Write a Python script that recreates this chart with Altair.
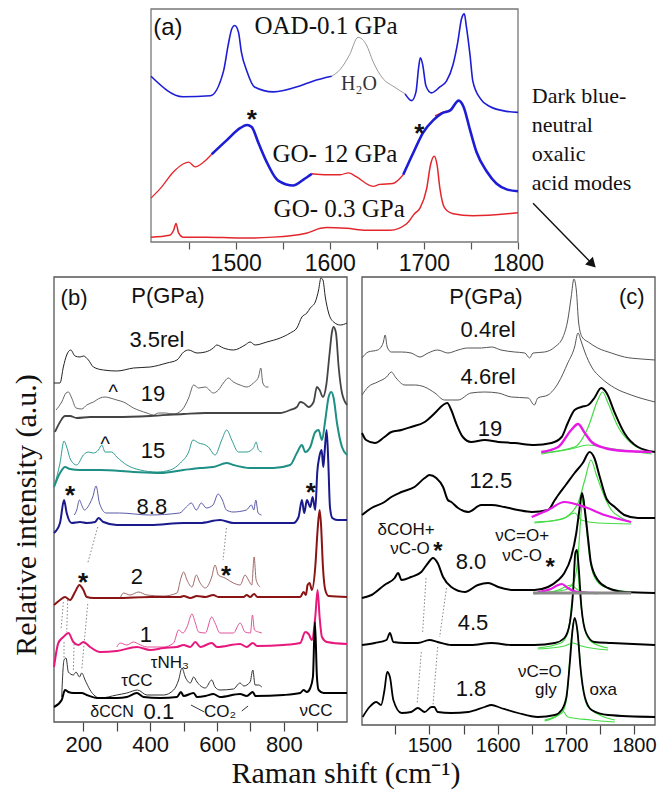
import altair as alt
import pandas as pd

# ======================= DATA =======================
# x = Raman shift (cm-1), y = relative intensity (a.u., offset per trace)

# ---- panel (a) ----
a_oad_1 = [(1410,170),(1444,149),(1473,150),(1487,175),(1492,202),(1496,219),(1499,222),(1503,215),
           (1506,195),(1512,175),(1520,159),(1540,154),(1568,160),(1582,165),(1602,170)]
a_oad_h2o = [(1602,170),(1611,177),(1621,192),(1630,210),(1639,202),(1646,185),(1657,167),(1667,160),(1680,152)]
a_oad_2 = [(1680,152),(1687,145),(1691.6,154),(1694.4,179),(1696.2,189),(1698.7,182),(1702.2,160),(1708,153),
           (1717,159),(1724,165),(1731,182),(1736,205),(1740,229),(1743,234),(1745,222),(1749,192),
           (1752,165),(1760,147),(1770,139),(1788,134),(1800,133)]
a_go12_r1 = [(1410,45),(1420,55),(1434,72),(1444,80),(1450,82),(1457,77),(1466,82),(1474.5,90)]
a_go12_b1 = [(1474.5,90),(1490,104),(1505,117),(1512,120),(1517,118),(1524,102),(1533,82),(1543,65),
             (1554,59),(1561,58),(1572,64),(1581,70)]
a_go12_r2 = [(1581,70),(1597,69),(1611,69),(1620,71),(1628,67),(1646,57),(1653,59),(1667,60),(1678,69)]
a_go12_b2 = [(1678,69),(1689,92),(1699,112),(1710,125),(1719,132),(1728,135),(1737,145),(1742,139),
             (1749,115),(1756,92),(1767,72),(1777,60),(1788,54),(1800,52)]
a_go12_r3 = [(1712,129),(1718,132),(1724,134)]
a_go03 = [(1410,5),(1430,7),(1434,12),(1436.6,19),(1439.4,9),(1444,5),(1469,5),(1505,4),(1540,5),(1575,9),
          (1590,14),(1597,15),(1618,14),(1639,12),(1664,12),(1682,19),(1690,29),(1696,35),(1703,55),
          (1707,79),(1711,88),(1714,79),(1717,55),(1722,35),(1731,29),(1752,27),(1800,30)]

# ---- panel (b) ----
b_35rel = [(112,339),(130,339),(140,355),(150,367),(162,372),(175,366),(190,365),(200,366),(215,362),(230,355),
           (260,352),(300,351),(350,354),(400,355),(450,359),(480,362),(500,370),(515,372),(540,369),(565,370),
           (589,374),(599,377),(619,374),(649,372),(684,377),(699,380),(714,377),(749,380),(789,384),(819,389),
           (839,394),(854,405),(869,409),(879,414),(894,420),(904,432),(911,444),(917,442),(924,425),(934,409),
           (949,400),(969,397),(989,399)]
b_19_thin = [(118,312),(135,320),(148,329),(155,330),(165,324),(178,314),(195,313),(210,317),(230,320),(250,324),
             (265,325),(280,324),(300,322),(320,320),(350,314),(390,309),(410,307),(425,309),(445,309),(470,308),
             (495,312),(515,324),(530,337),(545,334),(565,335),(589,329),(604,332),(619,339),(634,344),(649,340),
             (669,337),(689,335),(709,339),(724,345),(731,354),(737,339),(747,335),(754,335)]
b_19_thick = [(115,290),(130,300),(145,306),(160,306),(180,304),(220,305),(300,305),(400,306),(500,308),(565,309),
              (609,309),(669,309),(729,309),(789,309),(819,312),(839,315),(849,320),(859,319),(874,315),(889,320),
              (899,335),(907,332),(917,325),(927,337),(937,369),(944,390),(949,395),(956,389),(964,355),(974,329),
              (989,317)]
b_15_thin = [(112,235),(130,259),(142,281),(150,275),(162,262),(180,257),(200,267),(215,270),(230,269),(245,272),
             (255,277),(265,270),(285,270),(300,265),(330,257),(370,252),(420,250),(460,252),(490,259),(515,270),
             (528,282),(545,279),(565,277),(574,275),(594,267),(614,282),(629,292),(644,282),(664,270),(689,270),
             (709,274),(717,280),(724,272),(734,270)]
b_15_thick = [(112,235),(130,249),(145,255),(160,253),(190,252),(250,252),(350,250),(430,249),(500,252),(549,254),
              (589,255),(629,259),(649,257),(699,254),(769,254),(819,257),(839,269),(854,277),(864,270),(879,275),
              (894,290),(904,292),(914,282),(924,302),(934,325),(942,330),(949,324),(959,299),(974,275),(989,267)]
b_88_thin = [(173,207),(180,212),(188,222),(196,216),(203,212),(220,219),(228,225),(238,236),(248,219),(268,209),
             (308,209),(398,207),(488,209),(508,215),(523,219),(538,212),(553,219),(568,214),(588,217),(603,228),
             (616,222),(628,212),(648,210),(688,212),(703,217),(710,212),(716,222),(723,209),(733,207)]
b_88_thick = [(112,189),(130,199),(142,222),(150,209),(165,199),(190,200),(210,199),(235,200),(245,204),(260,200),
              (300,197),(400,197),(500,199),(549,199),(609,202),(649,199),(749,199),(829,199),(844,205),(854,222),
              (861,209),(869,222),(879,215),(886,225),(894,212),(900,250),(906,265),(913,272),(918,255),(922,270),
              (928,292),(933,260),(938,215),(945,204),(960,202),(989,202)]
b_2_thin = [(310,124),(320,129),(340,127),(365,130),(390,127),(440,126),(480,129),(492,144),(500,150),(510,142),
            (525,135),(538,147),(548,140),(565,134),(584,145),(594,157),(604,147),(624,144),(649,139),(669,137),
            (684,147),(694,142),(704,137),(711,165),(717,142),(729,135)]
b_2_thick = [(112,117),(130,122),(145,125),(160,122),(175,130),(188,137),(200,132),(210,125),(230,124),(300,124),
             (400,125),(490,125),(500,126),(520,124),(540,126),(565,125),(589,127),(604,125),(679,125),(689,127),
             (699,125),(711,128),(721,125),(799,125),(849,125),(859,130),(866,127),(871,137),(877,139),(884,132),
             (894,155),(901,192),(907,212),(911,199),(917,155),(924,132),(934,126),(989,125)]
b_1_thin = [(300,75),(310,79),(330,77),(350,80),(365,78),(390,75),(440,75),(470,79),(485,92),(498,89),(510,95),
            (525,108),(535,99),(545,90),(565,89),(584,105),(594,99),(609,89),(649,89),(669,99),(684,90),(700,89),
            (706,107),(712,92),(724,90),(734,89)]
b_1_thick = [(112,55),(125,79),(140,85),(155,89),(170,80),(185,77),(200,80),(220,75),(250,70),(300,71),(360,75),
             (400,72),(440,74),(480,75),(500,77),(520,75),(535,80),(550,75),(584,79),(600,75),(669,78),(689,75),
             (707,79),(720,76),(799,77),(849,79),(864,90),(874,88),(884,82),(894,105),(901,132),(907,105),(914,85),
             (929,80),(989,78)]
b_01_thin = [(135,25),(142,62),(148,64),(155,50),(170,47),(178,50),(188,45),(195,49),(205,42),(220,32),(250,24),
             (300,27),(330,29),(362,32),(390,27),(440,27),(470,32),(485,42),(495,54),(505,45),(520,39),(530,45),
             (540,40),(565,34),(584,42),(594,35),(609,32),(649,33),(669,39),(680,36),(699,40),(707,52),(714,37),
             (724,37),(734,35)]
b_01_thick = [(112,15),(135,22),(145,32),(155,30),(170,29),(195,29),(210,27),(240,24),(300,24),(330,25),(360,29),
              (380,25),(430,24),(480,25),(492,30),(500,26),(530,29),(540,25),(565,26),(589,28),(609,25),(669,28),
              (689,26),(707,30),(715,26),(799,27),(849,29),(859,32),(869,30),(879,34),(887,45),(893,100),(899,45),
              (904,32),(919,29),(989,29)]

# ---- panel (c) ----
c_04rel = [(1401,367),(1410,373),(1424,375),(1432,382),(1435,390),(1438,378),(1444,373),(1459,373),(1473,372),
           (1486,368),(1498,372),(1512,375),(1527,372),(1542,375),(1556,377),(1576,377),(1591,378),(1605,375),
           (1625,373),(1640,372),(1647,367),(1652,372),(1669,373),(1684,378),(1696,388),(1703,405),(1708,428),
           (1712,446),(1715.5,435),(1719,402),(1724,388),(1733,383),(1747,377),(1767,372),(1786,368),(1811,366),
           (1831,365)]
c_46rel = [(1401,330),(1410,338),(1424,343),(1437,348),(1444,353),(1451,347),(1464,340),(1478,340),(1493,338),
           (1508,332),(1522,325),(1542,325),(1561,332),(1581,333),(1601,332),(1620,328),(1645,327),(1654,320),
           (1659,327),(1674,330),(1689,342),(1703,362),(1713,378),(1718,392),(1722,385),(1728,373),(1738,358),
           (1752,347),(1772,337),(1796,330),(1831,323)]
c_19 = [(1401,292),(1407,285),(1420,282),(1434,288),(1444,293),(1459,295),(1473,298),(1493,303),(1508,312),
        (1520,320),(1526,322),(1532,315),(1539,302),(1549,288),(1561,283),(1581,285),(1601,283),(1625,282),
        (1654,280),(1679,282),(1694,288),(1703,302),(1713,315),(1723,318),(1733,320),(1742,327),(1752,337),
        (1760,332),(1772,312),(1786,292),(1806,278),(1831,273)]
c_19_mag = [(1664,273),(1689,278),(1708,295),(1718,301),(1728,292),(1738,283),(1757,277),(1786,274),(1826,273)]
c_19_g1 = [(1664,272),(1713,278),(1733,298),(1747,325),(1754,333),(1762,322),(1777,298),(1796,282),(1826,273)]
c_19_g2 = [(1664,271),(1708,276),(1733,280),(1762,277),(1826,271)]
c_125 = [(1401,210),(1415,217),(1434,223),(1444,228),(1459,233),(1478,238),(1493,247),(1500,250),(1510,247),
         (1520,238),(1527,225),(1532,223),(1542,217),(1557,213),(1576,220),(1591,220),(1610,218),(1630,215),
         (1650,213),(1674,215),(1684,225),(1689,230),(1700,240),(1713,252),(1725,262),(1735,273),(1742,267),
         (1750,248),(1760,226),(1772,218),(1786,210),(1806,207),(1831,207)]
c_125_mag = [(1650,208),(1674,215),(1698,223),(1728,218),(1757,210),(1796,203)]
c_125_g1 = [(1654,203),(1689,205),(1708,212),(1718,222),(1728,245),(1737,265),(1745,250),(1757,228),(1767,215),
            (1782,207),(1796,203)]
c_125_g2 = [(1654,202),(1698,207),(1713,212),(1723,205),(1747,202),(1796,201)]
c_80 = [(1401,127),(1415,130),(1434,140),(1449,147),(1454,152),(1459,145),(1473,148),(1488,153),(1498,162),
        (1505,167),(1512,162),(1520,148),(1532,138),(1552,133),(1571,140),(1586,142),(1601,138),(1625,135),
        (1654,135),(1674,138),(1689,145),(1698,152),(1708,168),(1715.5,192),(1720,215),(1724,232),(1728,215),
        (1733,185),(1737,162),(1747,145),(1762,137),(1786,133),(1831,132)]
c_80_base = [(1652,132),(1796,132)]
c_80_mag = [(1659,133),(1678,136),(1689,140),(1694.5,141),(1703,137),(1718,133),(1750,132),(1796,132)]
c_80_g1 = [(1654,132),(1698,135),(1711,142),(1718,168),(1723,215),(1726,228),(1729,208),(1735,168),(1742,148),
           (1757,138),(1796,133)]
c_80_g2 = [(1654,131),(1689,135),(1708,140),(1718,135),(1747,131)]
c_45 = [(1401,80),(1420,82),(1437,85),(1442,92),(1447,83),(1464,82),(1483,82),(1500,85),(1512,83),(1532,80),
        (1561,80),(1591,82),(1620,80),(1654,80),(1684,82),(1698,87),(1706,102),(1711,135),(1714,172),(1716.5,175),
        (1719,158),(1723,118),(1730,92),(1742,83),(1767,82),(1831,80)]
c_45_g1 = [(1659,77),(1693,82),(1703,92),(1710.6,135),(1715.5,173),(1720,135),(1728,95),(1738,83),(1762,77)]
c_45_g2 = [(1659,76),(1698,79),(1710.6,82),(1723,79),(1762,75)]
c_18 = [(1402,8),(1412,18),(1422,23),(1429,20),(1434,35),(1438,53),(1442,48),(1447,25),(1459,12),(1473,13),
        (1483,17),(1493,13),(1503,18),(1507,18),(1512,13),(1532,12),(1557,13),(1581,18),(1591,20),(1605,17),
        (1630,12),(1659,8),(1684,10),(1694,15),(1701,28),(1706,62),(1710,95),(1713,107),(1717,95),(1722,55),
        (1728,28),(1738,15),(1762,10),(1831,8)]
c_18_g1 = [(1669,5),(1694,12),(1701,25),(1708,85),(1713,107),(1718,88),(1724,42),(1733,18),(1772,5)]
c_18_g2 = [(1669,4),(1688.6,10),(1694.5,15),(1703,8),(1737,5),(1772,3)]

# dotted guide lines (x1, y1, x2, y2)
b_guides = [(243,195,213,159),(628,194,618,162),(140,120,133,92),(153,122,150,90),(213,118,195,52),
            (142,80,142,64),(172,78,170,50)]
c_guides = [(1495,147,1490,93),(1525,137,1515,88),(1488,73,1482,22),(1512,78,1505,18)]
b_co2_marks = [(522,17,562,10),(693,16,674,11)]

# ---- text labels (x, y, text) in each panel's data units ----
a_labels_serif = [(1596,222,"OAD-0.1 GPa"),(1605.5,90,"GO- 12 GPa"),(1610,34,"GO- 0.3 GPa")]
a_label_h2o = [(1631,162,"H\u2082O")]
a_label_tag = [(1428,220,"(a)")]
a_stars = [(1517,131,"*"),(1695,117,"*")]
a_note = [(1814.6,143,"Dark blue-"),(1814.6,113,"neutral"),(1814.6,83.4,"oxalic"),(1814.6,53.3,"acid modes")]
a_arrow = [(1816,39.7,1879,-22.6)]
a_arrow_head = [(1879,-22.6)]

b_labels_big = [(172,424,"(b)"),(453,426,"P(GPa)"),(420,382,"3.5rel"),(408,328,"19"),(408,271,"15"),
                (405,215,"8.8"),(360,145,"2"),(387,87,"1"),(426,10,"0.1")]
b_labels_small = [(459,59,"\u03c4NH\u2083"),(360,41,"\u03c4CC"),(609,10,"CO\u2082"),(896,11,"\u03bdCC")]
b_label_dccn = [(286,10,"\u03b4CCN")]
b_carets = [(289,332,"^"),(265,280,"^")]
b_stars = [(160,232,"*"),(881,235,"*"),(199,145,"*"),(627,152,"*")]
b_ytitle = [(31,207,"Relative intensity (a.u.)")]

c_labels_big = [(1583,428,"P(GPa)"),(1797,428,"(c)"),(1586,395,"0.4rel"),(1586,348,"4.6rel"),(1589,296,"19"),
                (1590,244,"12.5"),(1561,163,"8.0"),(1564,102,"4.5"),(1561,36,"1.8")]
c_labels_mode = [(1465.6,195,"\u03b4COH+"),(1471.4,176,"\u03bdC-O"),(1636,189,"\u03bdC=O+"),(1636,169,"\u03bdC-O"),
                 (1662,53,"\u03bdC=O"),(1671,35,"gly"),(1755,35,"oxa")]
c_stars = [(1512.5,179,"*"),(1677,163,"*")]
c_xtitle = [(1377.5,-58,"Raman shift (cm\u207b\u00b9)")]

# ======================= STYLES =======================
BLUE, RED, GRAY = "#1d1dd6", "#e3262b", "#9a9a9a"
STYLE = {
    "a_oad_1": (BLUE, 1.6), "a_oad_h2o": (GRAY, 1.0), "a_oad_2": (BLUE, 1.6),
    "a_go12_r1": (RED, 1.3), "a_go12_b1": (BLUE, 2.6), "a_go12_r2": (RED, 1.3),
    "a_go12_b2": (BLUE, 2.6), "a_go12_r3": (RED, 2.0), "a_go03": (RED, 1.5),
    "b_35rel": ("#222222", 1.0), "b_19_thin": ("#666666", 1.0), "b_19_thick": ("#444444", 1.8),
    "b_15_thin": ("#2f9d92", 1.0), "b_15_thick": ("#1e8f84", 2.0),
    "b_88_thin": ("#5a5aa8", 1.0), "b_88_thick": ("#1a1a8c", 2.0),
    "b_2_thin": ("#a06a6a", 1.0), "b_2_thick": ("#8a1414", 2.0),
    "b_1_thin": ("#e0559a", 1.0), "b_1_thick": ("#e8177c", 2.0),
    "b_01_thin": ("#333333", 1.0), "b_01_thick": ("#000000", 2.0),
    "c_04rel": ("#555555", 1.0), "c_46rel": ("#555555", 1.0),
    "c_19": ("#000000", 2.0), "c_125": ("#000000", 2.0), "c_80": ("#000000", 2.0),
    "c_45": ("#000000", 1.8), "c_18": ("#000000", 1.8),
    "c_80_base": ("#8a8a8a", 3.0),
    "c_19_mag": ("#e619e6", 2.4), "c_125_mag": ("#e619e6", 2.2), "c_80_mag": ("#e619e6", 2.2),
    "c_19_g1": ("#45dc45", 1.2), "c_19_g2": ("#45dc45", 1.2), "c_125_g1": ("#45dc45", 1.2),
    "c_125_g2": ("#45dc45", 1.2), "c_80_g1": ("#45dc45", 1.2), "c_80_g2": ("#45dc45", 1.2),
    "c_45_g1": ("#45dc45", 1.2), "c_45_g2": ("#45dc45", 1.2), "c_18_g1": ("#45dc45", 1.2),
    "c_18_g2": ("#45dc45", 1.2),
}
SERIES = {k: v for k, v in globals().items() if k in STYLE}
NAMES = list(STYLE.keys())
COLOR_SCALE = alt.Scale(domain=NAMES, range=[STYLE[n][0] for n in NAMES])

SANS, SERIF = "Liberation Sans", "Liberation Serif"

CH = 782  # canvas height (plot area)
PANEL_A = dict(xdom=[1410, 1800], xrng=[143, 510], ydom=[0, 239], yrng=[234, 1])
PANEL_B = dict(xdom=[112, 989], xrng=[46, 339], ydom=[0, 445], yrng=[714, 269])
PANEL_C = dict(xdom=[1401, 1831], xrng=[354, 647], ydom=[0, 448], yrng=[717, 269])

AXIS_A = alt.Axis(orient="bottom", offset=234 - CH, values=[1450, 1500, 1550, 1600, 1650, 1700, 1750, 1800],
                  labelExpr="datum.value % 100 == 0 ? datum.label : ''", format="d", domain=False, grid=False,
                  tickSize=7, tickColor="#555555", tickWidth=1.2, labelFont=SANS, labelFontSize=23,
                  labelColor="#111111", labelPadding=3, labelFlush=False, labelOverlap=False, title=None)
AXIS_B = alt.Axis(orient="bottom", offset=714 - CH, values=[200, 300, 400, 500, 600, 700, 800, 900],
                  labelExpr="datum.value % 200 == 0 ? datum.label : ''", format="d", domain=False, grid=False,
                  tickSize=9, tickColor="#444444", tickWidth=1.2, labelFont=SANS, labelFontSize=22,
                  labelColor="#111111", labelPadding=3, labelFlush=False, labelOverlap=False, title=None)
AXIS_C = alt.Axis(orient="bottom", offset=717 - CH, values=[1450, 1500, 1550, 1600, 1650, 1700, 1750, 1800],
                  labelExpr="datum.value % 100 == 0 ? datum.label : ''", format="d", domain=False, grid=False,
                  tickSize=9, tickColor="#444444", tickWidth=1.2, labelFont=SANS, labelFontSize=20,
                  labelColor="#111111", labelPadding=1, labelFlush=False, labelOverlap=False, title=None)


def ex(p, axis, field="x"):
    return alt.X(f"{field}:Q", scale=alt.Scale(domain=p["xdom"], range=p["xrng"], nice=False, zero=False),
                 axis=axis)


def ey(p, field="y"):
    return alt.Y(f"{field}:Q", scale=alt.Scale(domain=p["ydom"], range=p["yrng"], nice=False, zero=False),
                 axis=None)


def frame(p, axis, color, width):
    df = pd.DataFrame([{"x": p["xdom"][0], "x2": p["xdom"][1], "y": p["ydom"][0], "y2": p["ydom"][1]}])
    return alt.Chart(df).mark_rect(fillOpacity=0, stroke=color, strokeWidth=width).encode(
        x=ex(p, axis), x2="x2:Q", y=ey(p), y2="y2:Q")


def lines(p, axis, prefix):
    layers = []
    names = [n for n in NAMES if n.startswith(prefix)]
    widths = sorted(set(STYLE[n][1] for n in names))
    for w in widths:
        rows = []
        for n in names:
            if STYLE[n][1] != w:
                continue
            for i, (x, y) in enumerate(SERIES[n]):
                rows.append({"s": n, "x": x, "y": y, "o": i})
        df = pd.DataFrame(rows)
        layers.append(alt.Chart(df).mark_line(strokeWidth=w, interpolate="monotone", strokeJoin="round").encode(
            x=ex(p, axis), y=ey(p), color=alt.Color("s:N", scale=COLOR_SCALE, legend=None),
            order=alt.Order("o:Q")))
    return layers


def texts(p, axis, items, font, size, color="#111111", **kw):
    df = pd.DataFrame(items, columns=["x", "y", "t"])
    return alt.Chart(df).mark_text(font=font, fontSize=size, color=color, **kw).encode(
        x=ex(p, axis), y=ey(p), text="t:N")


def segs(p, axis, items, color, width, dash=None):
    df = pd.DataFrame(items, columns=["x", "y", "x2", "y2"])
    kw = dict(color=color, strokeWidth=width)
    if dash:
        kw["strokeDash"] = dash
    return alt.Chart(df).mark_rule(**kw).encode(x=ex(p, axis), y=ey(p), x2="x2:Q", y2="y2:Q")


# ---- panel (a) ----
pa = alt.layer(
    frame(PANEL_A, AXIS_A, "#777777", 1.3),
    *lines(PANEL_A, AXIS_A, "a_"),
    texts(PANEL_A, AXIS_A, a_labels_serif, SERIF, 25),
    texts(PANEL_A, AXIS_A, a_label_h2o, SERIF, 20, color="#333333"),
    texts(PANEL_A, AXIS_A, a_label_tag, SANS, 24),
    texts(PANEL_A, AXIS_A, a_stars, SANS, 26, fontWeight="bold", dy=6),
    texts(PANEL_A, AXIS_A, a_note, SERIF, 22, align="left", baseline="alphabetic"),
    segs(PANEL_A, AXIS_A, a_arrow, "#111111", 1.4),
    alt.Chart(pd.DataFrame(a_arrow_head, columns=["x", "y"])).mark_point(
        shape="triangle-up", angle=135, size=120, filled=True, color="#111111", opacity=1).encode(
        x=ex(PANEL_A, AXIS_A), y=ey(PANEL_A)),
)

# ---- panel (b) ----
pb = alt.layer(
    frame(PANEL_B, AXIS_B, "#555555", 1.3),
    segs(PANEL_B, AXIS_B, b_guides, "#777777", 0.9, dash=[1.5, 2]),
    *lines(PANEL_B, AXIS_B, "b_"),
    segs(PANEL_B, AXIS_B, b_co2_marks, "#333333", 1.0),
    texts(PANEL_B, AXIS_B, b_labels_big, SANS, 22),
    texts(PANEL_B, AXIS_B, b_labels_small, SANS, 17),
    texts(PANEL_B, AXIS_B, b_label_dccn, SANS, 16),
    texts(PANEL_B, AXIS_B, b_carets, SANS, 20, dy=3),
    texts(PANEL_B, AXIS_B, b_stars, SANS, 26, fontWeight="bold", dy=6),
    texts(PANEL_B, AXIS_B, b_ytitle, SERIF, 30, angle=270),
)

# ---- panel (c) ----
pc = alt.layer(
    frame(PANEL_C, AXIS_C, "#555555", 1.3),
    segs(PANEL_C, AXIS_C, c_guides, "#777777", 0.9, dash=[1.5, 2]),
    *lines(PANEL_C, AXIS_C, "c_"),
    texts(PANEL_C, AXIS_C, c_labels_big, SANS, 22),
    texts(PANEL_C, AXIS_C, c_labels_mode, SANS, 17),
    texts(PANEL_C, AXIS_C, c_stars, SANS, 24, fontWeight="bold", dy=6),
    texts(PANEL_C, AXIS_C, c_xtitle, SERIF, 30, baseline="alphabetic"),
)

chart = alt.layer(pa, pb, pc).resolve_scale(x="independent", y="independent").properties(
    width=655, height=CH, autosize=alt.AutoSizeParams(type="none"), padding=0
).configure_view(stroke=None)

chart.save("out.html", embed_options={"renderer": "svg", "actions": False})
